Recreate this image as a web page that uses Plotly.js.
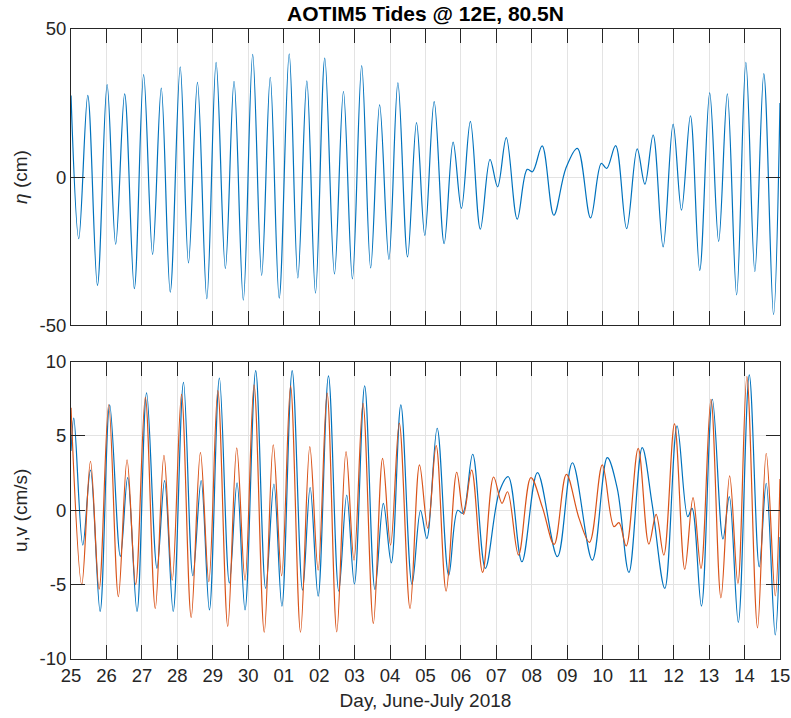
<!DOCTYPE html>
<html>
<head>
<meta charset="utf-8">
<script src="https://cdn.plot.ly/plotly-3.0.1.min.js"></script>
<style>html,body{margin:0;padding:0;background:#fff;}#chart{width:791px;height:718px;}</style>
</head>
<body>
<div id="chart"></div>
<script>
// Time axis: days since 25 June 2018 00:00
const dayTickVals = [0,1,2,3,4,5,6,7,8,9,10,11,12,13,14,15,16,17,18,19,20];
const dayTickText = ['25','26','27','28','29','30','01','02','03','04','05','06','07','08','09','10','11','12','13','14','15'];

// Sea surface height eta (cm): turning points
const etaT = [0,0.219,0.473,0.745,1.018,1.260,1.513,1.786,2.048,2.301,2.546,2.799,3.080,3.314,3.567,3.831,4.093,4.354,4.599,4.861,
  5.125,5.378,5.620,5.873,6.155,6.399,6.653,6.897,7.159,7.432,7.685,7.938,8.200,8.453,8.706,8.968,9.221,9.494,9.747,9.980,
  10.245,10.526,10.779,11.013,11.266,11.547,11.820,12.034,12.279,12.588,12.869,13.018,13.291,13.620,13.958,14.284,14.656,14.959,15.111,15.364,
  15.674,15.972,16.189,16.422,16.703,16.985,17.221,17.474,17.736,18.017,18.270,18.515,18.777,19.038,19.291,19.544,19.817,20.0];
const etaV = [27.5,-20.8,27.6,-36.6,31.2,-22.7,28.1,-37.7,34.6,-26.1,30.0,-38.9,37.2,-29.0,32.0,-41.1,38.7,-30.9,32.3,-41.6,
  41.4,-33.2,33.7,-40.9,41.6,-34.1,32.5,-39.2,40.2,-32.7,28.9,-34.4,37.6,-30.7,24.4,-27.8,31.8,-27.0,18.4,-19.7,
  25.5,-22.5,11.8,-10.6,18.8,-17.6,6.0,-3.3,13.3,-14.2,2.6,1.8,10.5,-12.9,2.9,9.7,-13.8,4.6,2.9,10.6,
  -17.4,9.5,-2.4,14.2,-23.6,17.9,-11.2,20.7,-31.5,28.4,-21.7,28.1,-39.8,38.7,-31.9,34.9,-46.5,25.0];

// Velocity u (cm/s), blue
const uT = [0,0.079,0.332,0.549,0.821,1.091,1.392,1.598,1.862,2.132,2.425,2.639,2.883,3.173,3.437,3.671,3.904,4.186,4.467,4.684,
  4.909,5.210,5.491,5.724,5.949,6.239,6.532,6.746,6.971,7.263,7.553,7.778,7.994,8.284,8.574,8.810,9.035,9.305,9.620,9.860,
  10.037,10.329,10.655,10.909,11.049,11.331,11.688,12.082,12.335,12.720,13.159,13.722,14.144,14.706,15.128,15.409,15.739,16.113,16.394,16.751,
  17.097,17.398,17.519,17.784,18.093,18.391,18.571,18.824,19.134,19.415,19.612,19.865,20.0];
const uV = [4.0,6.2,-2.34,2.7,-6.8,7.1,-3.1,2.2,-6.8,7.9,-3.9,2.0,-6.8,8.6,-4.4,2.0,-6.7,8.9,-4.9,1.85,
  -6.7,9.4,-5.25,1.77,-6.45,9.4,-5.37,1.52,-5.77,9.04,-5.43,1.03,-4.96,8.37,-5.32,0.47,-3.53,7.09,-4.98,0.0,
  -1.9,5.52,-4.36,0.0,-0.2,3.77,-3.9,1.25,2.26,-3.46,2.53,-3.12,3.2,-3.35,3.54,1.48,-4.18,4.22,0.4,-5.25,
  5.68,-0.43,0.13,-6.44,7.47,-1.93,0.92,-7.54,9.11,-3.8,1.82,-8.38,-1.8];

// Velocity v (cm/s), orange
const vT = [0,0.304,0.549,0.793,1.063,1.336,1.581,1.823,2.096,2.377,2.622,2.855,3.117,3.390,3.651,3.888,4.141,4.422,4.675,4.909,
  5.162,5.451,5.705,5.941,6.194,6.475,6.737,6.971,7.224,7.497,7.758,7.983,8.236,8.529,8.790,9.015,9.260,9.564,9.831,10.065,
  10.301,10.582,10.881,11.077,11.302,11.612,11.921,12.157,12.315,12.624,12.973,13.300,13.629,13.975,14.332,14.627,14.988,15.317,15.457,15.663,
  16.000,16.301,16.506,16.723,17.024,17.314,17.547,17.772,18.053,18.335,18.580,18.813,19.066,19.367,19.612,19.865,20.0];
const vV = [6.9,-5.0,3.3,-5.3,7.1,-5.8,3.4,-5.0,7.6,-6.6,3.7,-4.7,7.8,-7.2,3.9,-4.8,8.05,-7.8,4.2,-4.7,
  8.44,-8.2,4.4,-4.4,8.37,-8.2,4.28,-4.02,7.88,-8.17,3.95,-3.35,7.2,-7.6,3.5,-2.34,5.86,-6.6,3.05,-1.2,
  4.35,-5.43,2.56,-0.27,2.71,-4.18,2.24,0.47,1.25,-3.01,2.2,0.18,-2.29,2.42,-0.54,-2.15,3.05,-1.1,-0.83,-2.4,
  4.17,-2.27,-0.27,-3.01,5.81,-3.97,0.85,-3.91,7.47,-5.89,2.31,-4.92,9.0,-7.9,3.84,-5.75,2.1];

const etaTicks = [-50,0,50];
const uvTicks = [-10,-5,0,5,10];

const BLUE = '#0072BD', ORANGE = '#D95319';
const FONT = 'Liberation Sans, Arial, Helvetica, sans-serif';
const AX = '#262626';

const traces = [
  {x: etaT, y: etaV, type: 'scatter', mode: 'lines', line: {color: BLUE, width: 1.2, shape: 'spline', smoothing: 1}, xaxis: 'x', yaxis: 'y', hoverinfo: 'skip'},
  {x: uT, y: uV, type: 'scatter', mode: 'lines', line: {color: BLUE, width: 1.2, shape: 'spline', smoothing: 1}, xaxis: 'x2', yaxis: 'y2', hoverinfo: 'skip'},
  {x: vT, y: vV, type: 'scatter', mode: 'lines', line: {color: ORANGE, width: 1.2, shape: 'spline', smoothing: 1}, xaxis: 'x2', yaxis: 'y2', hoverinfo: 'skip'}
];

const common = {
  showline: true, linecolor: AX, linewidth: 1, mirror: 'allticks',
  ticks: 'inside', ticklen: 14, tickcolor: AX, tickwidth: 1,
  showgrid: true, gridcolor: '#e3e3e3', gridwidth: 1, zeroline: false,
  tickfont: {family: FONT, size: 18.5, color: AX}, automargin: false, fixedrange: true,
  ticklabeloverflow: 'allow'
};

const xRange = [-0.0005, 20.0005];

const layout = {
  width: 791, height: 718,
  margin: {l: 71, r: 11, t: 29, b: 59},
  paper_bgcolor: '#ffffff', plot_bgcolor: '#ffffff',
  showlegend: false,
  font: {family: FONT, color: AX},
  title: {text: '<b>AOTIM5 Tides @ 12E, 80.5N</b>', font: {family: FONT, size: 21, color: '#000'},
          xref: 'paper', x: 0.5, xanchor: 'center', yref: 'container', y: 1 - 14/718, yanchor: 'middle'},
  xaxis: Object.assign({}, common, {domain: [0, 1], range: xRange, tickmode: 'array', tickvals: dayTickVals, ticktext: dayTickText,
         showticklabels: false, anchor: 'y'}),
  yaxis: Object.assign({}, common, {domain: [0.530, 1], range: [-50, 50], tickmode: 'array', tickvals: etaTicks, ticktext: etaTicks.map(String),
         anchor: 'x', title: {text: '<i>η</i> (cm)', font: {family: FONT, size: 19, color: AX}, standoff: 6}}),
  xaxis2: Object.assign({}, common, {domain: [0, 1], range: xRange, tickmode: 'array', tickvals: dayTickVals, ticktext: dayTickText,
         anchor: 'y2', title: {text: 'Day, June-July 2018', font: {family: FONT, size: 19, color: AX}, standoff: 8}}),
  yaxis2: Object.assign({}, common, {domain: [0, 0.472], range: [-10, 10], tickmode: 'array', tickvals: uvTicks, ticktext: uvTicks.map(String),
         anchor: 'x2', title: {text: 'u,v (cm/s)', font: {family: FONT, size: 19, color: AX}, standoff: 6}})
};

Plotly.newPlot('chart', traces, layout, {staticPlot: true, displayModeBar: false});
</script>
</body>
</html>
